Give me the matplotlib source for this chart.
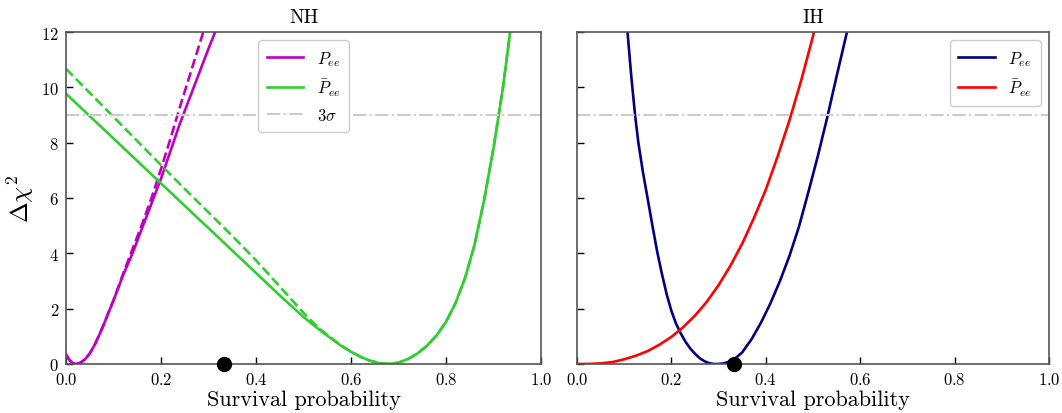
import matplotlib
matplotlib.use("Agg")
import matplotlib.pyplot as plt

plt.rcParams['font.family'] = 'cmr10'
plt.rcParams['mathtext.fontset'] = 'cm'
plt.rcParams['axes.formatter.use_mathtext'] = True

# ---- data ----
nh_pee_x = [0.0, 0.005, 0.01, 0.015, 0.022, 0.03, 0.04, 0.05, 0.06, 0.07, 0.08, 0.09, 0.10, 0.11, 0.12, 0.13, 0.14,
            0.16, 0.18, 0.20, 0.22, 0.24, 0.26, 0.28, 0.30, 0.314]
nh_pee_y = [0.35, 0.2, 0.1, 0.03, 0.0, 0.04, 0.17, 0.38, 0.68, 1.05, 1.45, 1.88, 2.3, 2.75, 3.2, 3.6, 4.0,
            4.9, 5.8, 6.7, 7.7, 8.7, 9.6, 10.5, 11.4, 12.0]

nh_pee_d_x = [0.0, 0.005, 0.01, 0.015, 0.022, 0.03, 0.04, 0.05, 0.06, 0.07, 0.08, 0.09, 0.10, 0.11, 0.12, 0.13, 0.14,
              0.16, 0.18, 0.20, 0.22, 0.24, 0.26, 0.28, 0.289]
nh_pee_d_y = [0.35, 0.2, 0.1, 0.03, 0.0, 0.04, 0.17, 0.38, 0.68, 1.05, 1.45, 1.88, 2.3, 2.78, 3.25, 3.7, 4.15,
              5.05, 6.0, 7.05, 8.15, 9.3, 10.4, 11.5, 12.0]

nh_pbar_x = [0.0, 0.05, 0.10, 0.15, 0.20, 0.25, 0.30, 0.35, 0.40, 0.45, 0.50, 0.52, 0.54, 0.56, 0.58, 0.60, 0.62,
             0.64, 0.66, 0.68, 0.70, 0.72, 0.74, 0.76, 0.78, 0.80, 0.82, 0.84, 0.86, 0.88, 0.90, 0.92, 0.935]
nh_pbar_y = [9.77, 8.96, 8.15, 7.34, 6.53, 5.72, 4.91, 4.10, 3.29, 2.48, 1.70, 1.42, 1.15, 0.9, 0.65, 0.44, 0.26,
             0.12, 0.03, 0.0, 0.05, 0.18, 0.38, 0.66, 1.03, 1.52, 2.2, 3.1, 4.3, 5.9, 7.8, 10.0, 12.0]

nh_pbar_d_x = [0.0, 0.05, 0.10, 0.15, 0.20, 0.25, 0.30, 0.35, 0.40, 0.45, 0.50, 0.52, 0.54, 0.56, 0.58, 0.60, 0.62,
               0.64, 0.66, 0.68, 0.70, 0.72, 0.74, 0.76, 0.78, 0.80, 0.82, 0.84, 0.86, 0.88, 0.90, 0.92, 0.935]
nh_pbar_d_y = [10.67, 9.8, 8.93, 8.06, 7.19, 6.33, 5.48, 4.63, 3.75, 2.8, 1.85, 1.5, 1.19, 0.92, 0.66, 0.45, 0.26,
               0.12, 0.03, 0.0, 0.05, 0.18, 0.38, 0.66, 1.03, 1.52, 2.2, 3.1, 4.3, 5.9, 7.8, 10.0, 12.0]

ih_pee_x = [0.107, 0.115, 0.123, 0.13, 0.14, 0.15, 0.16, 0.17, 0.18, 0.19, 0.20, 0.21, 0.22, 0.23, 0.24, 0.25,
            0.26, 0.27, 0.28, 0.29, 0.30, 0.31, 0.32, 0.334, 0.35, 0.37, 0.39, 0.41, 0.43, 0.45, 0.47, 0.49,
            0.51, 0.53, 0.55, 0.572]
ih_pee_y = [12.0, 10.4, 9.0, 8.0, 6.9, 5.95, 4.98, 4.05, 3.25, 2.52, 1.92, 1.45, 1.1, 0.8, 0.56, 0.37,
            0.21, 0.1, 0.03, 0.0, 0.0, 0.02, 0.07, 0.18, 0.42, 0.9, 1.5, 2.2, 3.0, 3.9, 4.95, 6.2,
            7.5, 8.9, 10.4, 12.0]

ih_pbar_x = [0.0, 0.025, 0.05, 0.075, 0.10, 0.125, 0.15, 0.175, 0.20, 0.225, 0.25, 0.275, 0.30, 0.325,
             0.35, 0.375, 0.40, 0.425, 0.45, 0.475, 0.50, 0.502]
ih_pbar_y = [0.0, 0.003, 0.02, 0.07, 0.17, 0.3, 0.47, 0.7, 0.98, 1.33, 1.75, 2.25, 2.85, 3.55,
             4.35, 5.28, 6.3, 7.5, 8.8, 10.25, 11.85, 12.0]

best_fit_x = [1/3]
best_fit_y = [0.0]
sigma3 = 9.0

xticks = [0.0, 0.2, 0.4, 0.6, 0.8, 1.0]
yticks = [0, 2, 4, 6, 8, 10, 12]

fig = plt.figure(figsize=(10.62, 4.14), dpi=100)
axL = fig.add_axes([66/1062, 49/414, 475/1062, 332/414])
axR = fig.add_axes([577/1062, 49/414, 472/1062, 332/414])

lw = 1.9
axL.plot(nh_pee_x, nh_pee_y, color='#c000c0', lw=lw, label=r'$P_{ee}$')
axL.plot(nh_pee_d_x, nh_pee_d_y, color='#c000c0', lw=lw, ls='--')
axL.plot(nh_pbar_x, nh_pbar_y, color='#33cc33', lw=lw, label=r'$\bar{P}_{ee}$')
axL.plot(nh_pbar_d_x, nh_pbar_d_y, color='#33cc33', lw=lw, ls='--')
axL.axhline(sigma3, color='#cccccc', lw=1.5, ls='-.', label=r'$3\sigma$')

axR.plot(ih_pee_x, ih_pee_y, color='#000080', lw=lw, label=r'$P_{ee}$')
axR.plot(ih_pbar_x, ih_pbar_y, color='#ff0000', lw=lw, label=r'$\bar{P}_{ee}$')
axR.axhline(sigma3, color='#cccccc', lw=1.5, ls='-.')

for ax, title in [(axL, 'NH'), (axR, 'IH')]:
    ax.plot(best_fit_x, best_fit_y, 'o', color='black', ms=10, clip_on=False, zorder=10)
    ax.set_xlim(0, 1)
    ax.set_ylim(0, 12)
    ax.set_xticks(xticks)
    ax.set_yticks(yticks)
    ax.set_title(title, fontsize=14, pad=7)
    ax.set_xlabel('Survival probability', fontsize=16, labelpad=2)
    ax.tick_params(direction='in', labelsize=12, length=5, width=1, pad=5)
    for s in ax.spines.values():
        s.set_color('#555555')
        s.set_linewidth(1.2)

axL.set_ylabel(r'$\Delta\chi^2$', fontsize=18, labelpad=4)
axR.tick_params(labelleft=False)

axL.legend(loc='upper center', bbox_to_anchor=(0.5, 1.0), fontsize=12, framealpha=1,
           edgecolor='#cccccc', handlelength=2.2, borderpad=0.5, labelspacing=0.55)
axR.legend(loc='upper right', fontsize=12, framealpha=1, edgecolor='#cccccc',
           handlelength=2.2, borderpad=0.5, labelspacing=0.55)

fig.savefig('out.png', dpi=100)
